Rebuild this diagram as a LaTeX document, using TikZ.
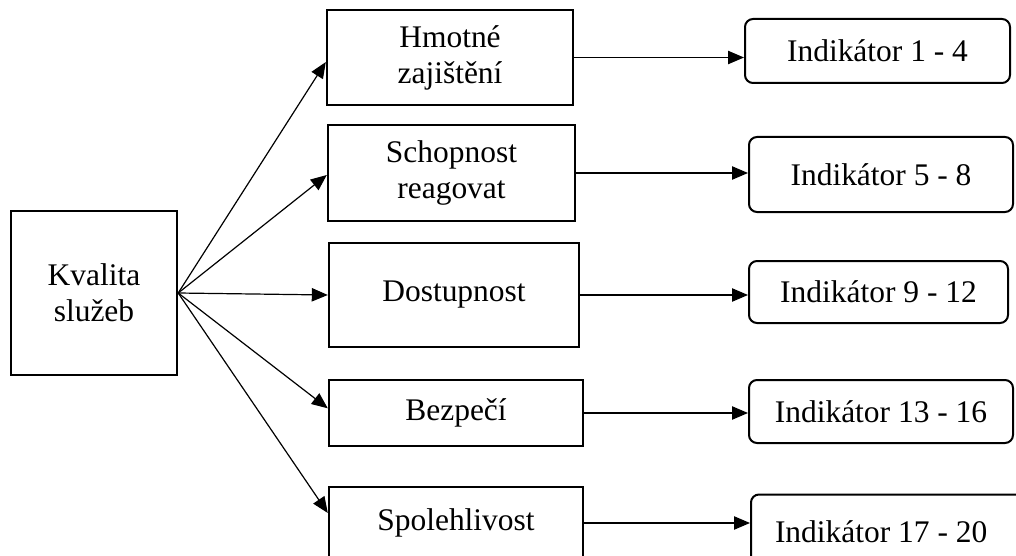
\documentclass[tikz,border=0pt]{standalone}
\usepackage{fontspec}
\setmainfont{Liberation Serif}
\usetikzlibrary{arrows.meta}
\begin{document}
\begin{tikzpicture}[x=0.75pt,y=-0.75pt,
  txt/.style={font=\fontsize{23.6}{27}\selectfont, align=center},
  sqbox/.style={txt, draw, line width=1.8pt, inner sep=0pt},
  indbox/.style={txt, draw, line width=1.5pt, rounded corners=6pt, inner sep=0pt},
  conn/.style={line width=0.9pt, -{Triangle[length=12pt,width=10pt]}}]
\useasboundingbox (0,0) rectangle (1016,556);
\fill[white] (0,0) rectangle (1016,556);

% root
\node[sqbox, minimum width=124.5pt, minimum height=123pt] (K) at (94,293) {Kvalita\\služeb};

% dimensions
\node[sqbox, minimum width=184.5pt, minimum height=71.25pt] (B1) at (450,57.5) {Hmotné\\zajištění};
\node[sqbox, minimum width=185.25pt, minimum height=72pt] (B2) at (451.5,173) {Schopnost\\reagovat};
\node[sqbox, minimum width=187.5pt, minimum height=78pt] (B3) at (454,295) {Dostupnost};
\node[sqbox, minimum width=190.5pt, minimum height=49.5pt] (B4) at (456,413) {Bezpečí};
\node[sqbox, minimum width=190.5pt, minimum height=54pt] (B5) at (456,523) {Spolehlivost};

% indicator groups
\node[indbox, minimum width=198.75pt, minimum height=48pt] (R1) at (877.5,51) {Indikátor 1 - 4};
\node[indbox, minimum width=198pt, minimum height=56.25pt] (R2) at (881,174.5) {Indikátor 5 - 8};
\node[indbox, minimum width=194.25pt, minimum height=46.5pt] (R3) at (878.5,292) {Indikátor 9 - 12};
\node[indbox, minimum width=198pt, minimum height=47.25pt] (R4) at (881,411.5) {Indikátor 13 - 16};
\node[indbox, minimum height=56.25pt, inner xsep=18pt] (R5) at (891,532) {\makebox[174pt][l]{Indikátor 17 - 20}};

% root to dimensions
\draw[conn] (K.east) -- ([yshift=-3.4pt]B1.west);
\draw[conn] (K.east) -- ([yshift=-1.5pt]B2.west);
\draw[conn] (K.east) -- (B3.west);
\draw[conn] (K.east) -- ([yshift=3.5pt]B4.west);
\draw[conn] (K.east) -- ([yshift=7.5pt]B5.west);

% dimensions to indicators
\draw[conn] (B1.east) -- (B1.east -| R1.west);
\draw[conn] (B2.east) -- (B2.east -| R2.west);
\draw[conn] (B3.east) -- (B3.east -| R3.west);
\draw[conn] (B4.east) -- (B4.east -| R4.west);
\draw[conn] (B5.east) -- (B5.east -| R5.west);
\end{tikzpicture}
\end{document}
